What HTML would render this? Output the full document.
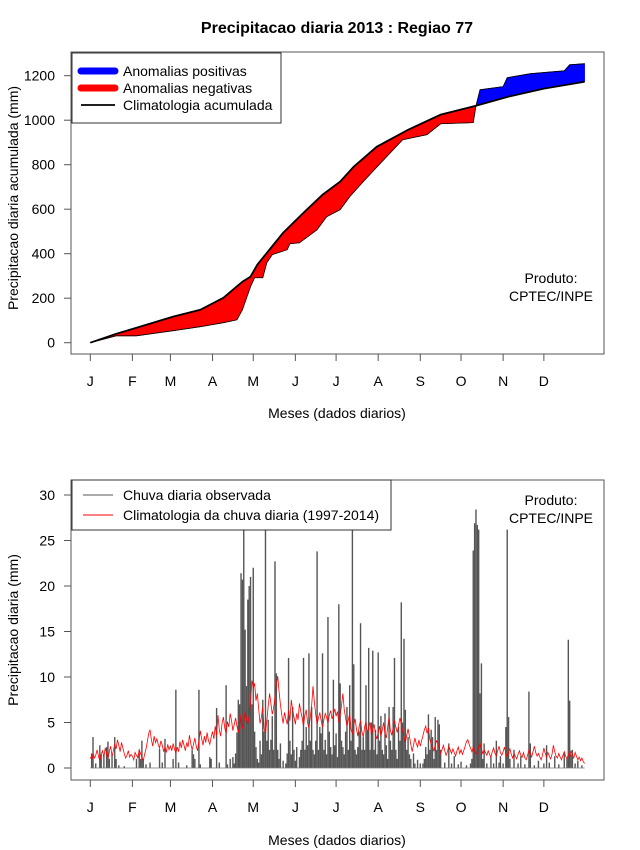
<!DOCTYPE html>
<html><head><meta charset="utf-8"><style>
html,body{margin:0;padding:0;background:#fff}
body{position:relative;width:640px;height:850px}
svg{display:block;font-family:"Liberation Sans",Arial,sans-serif}
</style></head><body>
<svg id="chart" width="640" height="850" viewBox="0 0 640 850" xmlns="http://www.w3.org/2000/svg">
<text x="337" y="33" text-anchor="middle" font-size="16" font-weight="bold">Precipitacao diaria 2013 : Regiao 77</text>
<g id="topPanel"></g>
<g id="botPanel"></g>
</svg>
<script>
// ---- data: cumulative (top panel) ----
const climDays = [1,20,35,62,82,99,113,119,124,143,158,172,185,195,212,235,259,285,309,335,365];
const climCum = [0,40,67,117,148,202,274,297,351,494,584,665,724,791,881,957,1025,1065,1106,1142,1173];
const obsDays = [1,20,35,62,82,99,109,113,119,122,128,131,135,146,148,155,161,168,175,185,192,202,215,231,249,259,283,285,288,305,308,325,350,354,365];
const obsCum = [0,31,31,54,72,90,103,148,252,292,292,360,396,418,445,449,476,508,566,598,656,724,809,912,935,984,989,1065,1137,1151,1191,1209,1222,1249,1254];
const monthLabels = ["J","F","M","A","M","J","J","A","S","O","N","D"];
const monthStartDays = [1,32,60,91,121,152,182,213,244,274,305,335];
const topTicks = [0,200,400,600,800,1000,1200];
const botTicks = [0,5,10,15,20,25,30];
// ---- data: daily (bottom panel) ----
const climDaily = [
1.2,0.9,1.6,1.1,1.4,2.0,1.3,0.8,1.5,1.9,1.2,2.2,1.6,1.0,1.8,2.4,1.3,1.9,2.6,2.1,3.1,2.5,1.8,2.8,2.2,1.6,1.1,1.4,1.9,1.2,1.5,
1.3,0.9,1.7,1.4,1.1,2.0,1.6,1.2,0.8,1.5,2.1,2.9,3.8,4.2,3.1,2.4,3.5,2.8,3.2,2.6,2.2,3.0,2.5,1.8,2.3,1.7,2.6,2.0,
2.4,1.9,2.7,2.1,1.6,2.3,1.8,2.9,2.2,3.1,2.5,1.9,2.8,2.3,3.6,2.7,2.0,2.6,3.3,2.4,1.9,3.0,4.1,3.2,2.5,3.5,2.8,3.9,3.0,2.6,3.4,
4.0,3.2,4.6,3.6,5.8,4.2,3.5,4.9,5.6,4.4,3.8,5.1,4.5,6.0,5.2,4.1,4.8,5.5,4.6,3.9,4.7,5.9,4.3,5.0,6.2,5.4,4.8,5.7,7.2,9.6,
8.8,9.3,7.4,8.2,6.5,4.9,5.6,6.7,4.3,3.8,5.2,6.8,8.2,7.1,5.9,6.6,7.8,9.2,10.1,8.4,7.0,5.8,4.9,6.1,5.4,4.8,6.3,5.2,7.5,6.4,5.6,
4.8,6.0,5.3,7.1,6.2,5.5,4.6,5.8,6.4,5.0,4.4,5.6,6.9,9.0,7.2,5.9,4.8,5.5,6.1,5.2,4.5,5.3,6.0,5.6,4.9,5.8,6.3,5.4,5.9,6.5,
5.7,6.2,5.0,5.8,6.9,8.2,6.4,5.5,4.6,5.3,6.0,4.2,3.8,4.7,5.4,4.3,3.5,4.6,5.2,4.0,3.4,4.5,5.1,3.9,4.4,5.0,3.6,4.2,4.8,3.7,3.2,
3.9,4.6,3.5,4.2,5.0,3.8,3.3,4.5,5.6,4.1,3.6,4.4,5.2,4.5,3.9,4.7,5.5,4.8,4.1,3.4,2.8,3.6,4.3,3.5,2.6,1.8,2.5,3.3,2.7,2.3,3.1,
2.4,3.0,3.6,4.2,4.6,3.8,4.4,3.2,2.6,2.2,1.9,2.5,3.0,2.7,2.2,1.6,2.0,2.5,1.9,1.4,1.8,2.4,2.0,1.6,2.1,1.7,1.3,1.9,2.3,1.6,
2.0,1.5,1.9,2.4,2.9,3.1,2.6,2.2,1.8,2.3,1.9,1.5,1.8,2.3,2.7,2.1,1.6,2.0,1.7,1.4,1.9,1.5,1.2,1.8,2.2,1.6,1.3,1.9,2.4,1.7,1.4,
1.8,2.3,1.6,1.2,1.7,2.1,1.5,1.1,1.6,1.3,1.0,1.5,1.9,1.4,1.2,1.7,1.1,0.9,1.4,2.0,1.6,1.2,1.8,2.4,1.7,1.3,1.6,1.2,0.9,1.4,
2.2,1.6,1.2,1.7,1.3,1.0,1.5,2.5,1.8,1.3,1.1,1.6,1.2,0.9,1.4,1.8,1.3,1.0,1.5,1.2,1.9,1.4,1.1,1.7,1.3,0.9,1.2,0.8,1.1,0.7,0.5];
const rainDays = [2,3,5,8,9,11,13,14,15,17,19,20,22,26,
35,37,38,39,40,42,45,52,54,56,
62,64,66,72,76,77,78,81,82,89,
90,94,96,101,102,104,106,107,108,109,110,111,112,113,114,115,116,117,118,119,120,
121,122,123,124,125,126,127,128,129,130,131,132,133,134,135,136,137,138,139,140,141,143,145,146,147,148,149,150,151,
152,153,155,156,157,158,159,160,161,162,163,164,165,166,167,168,169,170,171,172,173,174,175,176,177,178,179,180,181,
182,183,184,185,186,187,188,189,190,191,192,193,194,195,196,197,198,199,200,201,202,203,204,205,206,207,208,209,210,211,212,
213,214,215,216,217,218,219,220,221,222,223,224,225,226,227,228,229,230,231,232,233,234,235,236,237,239,240,242,
244,246,247,248,249,250,251,252,253,254,255,256,257,258,259,262,265,267,269,272,
274,278,281,282,283,284,285,286,287,288,289,290,291,293,296,298,300,302,303,
305,307,308,309,310,313,316,318,321,324,325,328,331,
335,337,339,343,346,350,352,353,354,355,356,358,360,363];
const rainVals = [1.6,3.4,0.5,2.5,1.5,1.4,2.3,2.9,1.0,1.5,3.4,1.0,0.3,0.2,
1.0,2.0,1.0,3.0,1.0,0.4,0.6,2.1,0.6,3.2,
1.0,8.6,0.6,0.3,2.0,1.5,1.0,8.6,0.4,1.2,
1.0,6.6,0.6,9.1,0.4,1.0,1.2,0.5,1.6,3.9,7.5,7.0,21.4,20.7,27,15.2,9,18.5,20,21,7,
22,4,2.3,1,0.6,3,1.5,7.5,4,32,3,5.3,2,3.1,5.7,2,22.7,10.4,2,1,2.7,0.8,0.5,1.6,12.1,3,1.5,6.7,2,
0.8,2.3,1.2,2,3,12.1,2,4.5,2.5,12.6,3,6.7,2,1.5,3,23.8,2,4.5,3.8,12.6,2,3.1,1.5,16.6,4,2.3,1.5,9.7,2.5,
3.8,1.2,18,9.3,3,2.3,1.5,4,6.7,2,9.1,3,32,11.4,2,1.5,2.3,4,15.9,2,3.4,2,9.1,4,13.2,2,5,12.9,2,4.2,1.5,
12.7,3,5.7,2,1.5,6,2.5,1,6.7,3,2,6.7,12.1,2,1,4.5,3,18.2,5,14.2,6.4,2,3.4,1.5,1,1.6,0.5,0.9,
0.5,0.5,1,2.3,1.5,5.9,2,4.2,3.4,1,5.6,2,5.3,4.8,2,0.6,2.7,0.5,1.3,0.4,
0.7,0.3,0.5,1,23.9,26.9,28.4,26.7,26.2,8.2,11.5,1,2.7,0.5,1.3,0.5,3,0.6,1.3,
0.5,4.5,26.2,5.6,1,2,0.5,1.3,0.4,8.4,2.7,0.3,0.8,
0.5,2.5,0.6,1.3,0.4,1.6,1,14.1,7.4,1.5,2,0.5,0.8,0.3];

const NS='http://www.w3.org/2000/svg';
function mk(parent,tag,attrs){const e=document.createElementNS(NS,tag);for(const k in attrs)e.setAttribute(k,attrs[k]);parent.appendChild(e);return e;}
const xDay = d => 90.3 + (d-1)*1.358;
const yTop = v => 342.7 - v*0.2225;
const yBot = v => 768 - v*9.1;
function interp(days,vals,d){
  for(let i=0;i<days.length-1;i++){ if(d<=days[i+1]){const t=(d-days[i])/(days[i+1]-days[i]);return vals[i]+t*(vals[i+1]-vals[i]);} }
  return vals[vals.length-1];
}
function axes(g,boxY,boxH,ticks,yf,which){
  const box=mk(g,'rect',{x:71,y:boxY,width:533,height:boxH,fill:'none',stroke:'#555','stroke-width':1});
  
  
  const by=boxY+boxH;
  monthStartDays.forEach((d,i)=>{
    const x=xDay(d);
    const t=mk(g,'line',{x1:x,y1:by,x2:x,y2:by+7,stroke:'#555'});
    
    
    const l=mk(g,'text',{x:x,y:by+32,'text-anchor':'middle','font-size':14});
    l.textContent=monthLabels[i];
    
    
  });
  ticks.forEach(v=>{
    const y=yf(v);
    const t=mk(g,'line',{x1:64,y1:y,x2:71,y2:y,stroke:'#555'});
    
    
    const l=mk(g,'text',{x:55,y:y+5,'text-anchor':'end','font-size':14});
    l.textContent=v;
    
    
  });
}
// ---- top panel ----
const topG=document.getElementById('topPanel');
axes(topG,52,302,topTicks,yTop,'top');
const fills=mk(topG,'g',{});


for(let d=1; d<365; d++){
  const c0=interp(climDays,climCum,d), c1=interp(climDays,climCum,d+1);
  const o0=interp(obsDays,obsCum,d), o1=interp(obsDays,obsCum,d+1);
  const col = (o0+o1)/2 >= (c0+c1)/2 ? '#0000ff' : '#ff0000';
  const p=mk(fills,'polygon',{points:`${xDay(d)},${yTop(c0)} ${xDay(d+1)},${yTop(c1)} ${xDay(d+1)},${yTop(o1)} ${xDay(d)},${yTop(o0)}`,fill:col,stroke:col,'stroke-width':0.6});
  
  
}
const obsPts=obsDays.map((d,i)=>xDay(d)+','+yTop(obsCum[i])).join(' ');
const ol=mk(topG,'polyline',{points:obsPts,fill:'none',stroke:'#000','stroke-width':0.8});


const climPts=climDays.map((d,i)=>xDay(d)+','+yTop(climCum[i])).join(' ');
const cl=mk(topG,'polyline',{points:climPts,fill:'none',stroke:'#000','stroke-width':1.8});


// ---- bottom panel ----
const botG=document.getElementById('botPanel');
axes(botG,480,300,botTicks,yBot,'bottom');
const cp=mk(botG,'clipPath',{id:'bclip'});
mk(cp,'rect',{x:71,y:480,width:533,height:300});
const bars=mk(botG,'g',{'clip-path':'url(#bclip)'});


rainDays.forEach((d,i)=>{
  const x=xDay(d);
  const b=mk(bars,'line',{x1:x,y1:yBot(0),x2:x,y2:yBot(rainVals[i]),stroke:'#555','stroke-width':1.4});
  
  
});
const base=mk(bars,'line',{x1:xDay(1),y1:yBot(0),x2:xDay(365),y2:yBot(0),stroke:'#777','stroke-width':0.8});


const rl=mk(botG,'polyline',{points:climDaily.map((v,i)=>xDay(i+1)+','+yBot(v)).join(' '),fill:'none',stroke:'#ff0000','stroke-width':0.8});


</script>
<svg width="640" height="850" viewBox="0 0 640 850" style="position:absolute;left:0;top:0;font-family:'Liberation Sans',Arial,sans-serif">
<text transform="translate(18,198) rotate(-90)" text-anchor="middle" font-size="14">Precipitacao diaria acumulada (mm)</text>
<text x="337" y="418" text-anchor="middle" font-size="14">Meses (dados diarios)</text>
<text transform="translate(18,630) rotate(-90)" text-anchor="middle" font-size="14">Precipitacao diaria (mm)</text>
<text x="337" y="845" text-anchor="middle" font-size="14">Meses (dados diarios)</text>
<g>
<text x="551" y="283" text-anchor="middle" font-size="14">Produto:</text>
<text x="551" y="301" text-anchor="middle" font-size="14">CPTEC/INPE</text>
</g>
<g>
<text x="551" y="505" text-anchor="middle" font-size="14">Produto:</text>
<text x="551" y="523" text-anchor="middle" font-size="14">CPTEC/INPE</text>
</g>
<g>
<rect x="72" y="53" width="209" height="70" fill="#fff" stroke="#333" stroke-width="1"/>
<line x1="81" y1="71" x2="115" y2="71" stroke="#0000ff" stroke-width="7" stroke-linecap="round"/>
<text x="123" y="76" font-size="14">Anomalias positivas</text>
<line x1="81" y1="88" x2="115" y2="88" stroke="#ff0000" stroke-width="7" stroke-linecap="round"/>
<text x="123" y="93" font-size="14">Anomalias negativas</text>
<line x1="81" y1="105" x2="115" y2="105" stroke="#000" stroke-width="1.8"/>
<text x="123" y="110" font-size="14">Climatologia acumulada</text>
</g>
<g>
<rect x="72" y="480" width="319" height="50" fill="#fff" stroke="#333" stroke-width="1"/>
<line x1="83" y1="495" x2="113" y2="495" stroke="#555" stroke-width="1"/>
<text x="123" y="500" font-size="14">Chuva diaria observada</text>
<line x1="83" y1="515" x2="113" y2="515" stroke="#ff0000" stroke-width="1"/>
<text x="123" y="520" font-size="14">Climatologia da chuva diaria (1997-2014)</text>
</g>
</svg>
</body></html>
